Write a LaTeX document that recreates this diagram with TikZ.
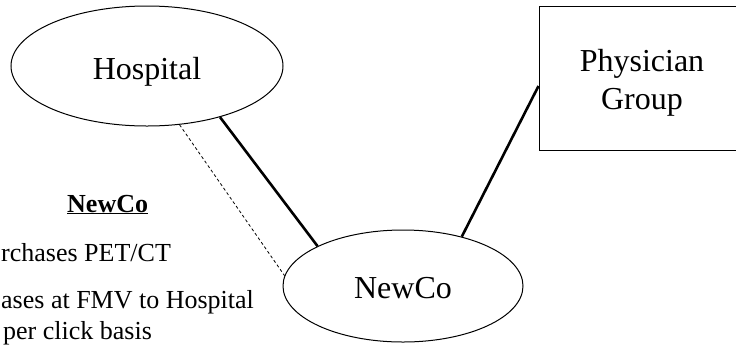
\documentclass[tikz,border=0pt]{standalone}
\usepackage{fontspec}
\setmainfont{Liberation Serif}
\usetikzlibrary{shapes.geometric}
\begin{document}
\begin{tikzpicture}[x=1pt,y=-1pt,
  bigtext/.style={font=\fontsize{32}{38}\selectfont},
  sidetext/.style={font=\fontsize{26}{30}\selectfont,anchor=base west,inner sep=0pt},
  entity/.style={ellipse,draw,line width=1pt,inner sep=0pt,bigtext},
  firm/.style={rectangle,draw,line width=1pt,inner sep=0pt},
  tie/.style={line width=2.6pt},
  weaktie/.style={line width=0.8pt,dash pattern=on 3pt off 2.5pt}]
\useasboundingbox (0,0) rectangle (736,349);
\node[entity,minimum width=272pt,minimum height=120pt,text height=26pt,text depth=0pt] (hosp) at (147,66) {Hospital};
\node[entity,minimum width=240pt,minimum height=112pt,text height=24pt,text depth=0pt] (newco) at (403,286) {NewCo};
\node[firm,minimum width=230pt,minimum height=144pt] (phys) at (654,78) {};
\node[bigtext,align=center,inner sep=0pt] (physlabel) at (642,83) {Physician\\Group};
\draw[tie] (phys.west |- 0,86) -- (newco.40.7);
\draw[tie] (hosp.-35.7) -- (newco.155.6);
\draw[weaktie] (hosp.-61.2) -- (newco.175.7);
\node[sidetext] (ntitle) at (67,212) {\underline{\textbf{NewCo}}};
\node[sidetext] (n1) at (1,261) {rchases PET/CT};
\node[sidetext] (n2) at (1,308) {ases at FMV to Hospital};
\node[sidetext] (n3) at (3,339) {per click basis};
\end{tikzpicture}
\end{document}
